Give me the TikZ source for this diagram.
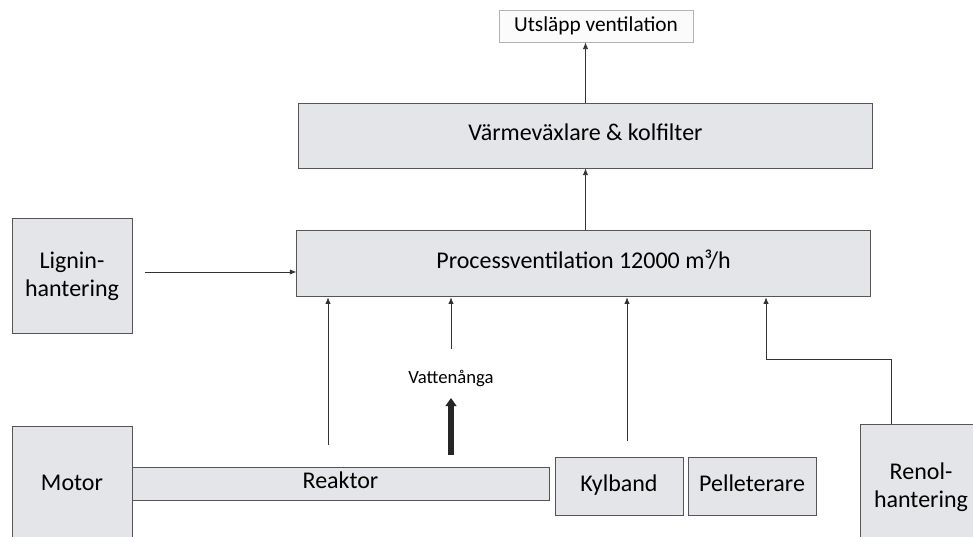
\documentclass[tikz,border=0pt]{standalone}
\usepackage{fontspec}
\setmainfont{Carlito}
\usetikzlibrary{arrows.meta,positioning}

\definecolor{boxgray}{HTML}{E4E5E8}
\definecolor{edgegray}{HTML}{555555}

\begin{document}
\begin{tikzpicture}[x=0.75pt, y=-0.75pt,
	box/.style={draw=edgegray, fill=boxgray, line width=0.6pt, inner sep=0pt, align=center, font=\fontsize{18}{21}\selectfont},
	one/.style={text height=12.5pt, text depth=4.5pt},
	arr/.style={-{Latex[length=5pt,width=4pt]}, line width=0.6pt, black!80},
	line/.style={line width=0.6pt, black!80}]
			\clip (0,0) rectangle (973,536);
			\fill[white] (0,0) rectangle (973,536);
			
			\node[box, one, fill=white!97!gray, draw=gray!60, minimum width=145.5pt, minimum height=24pt, font=\fontsize{16}{19}\selectfont] (ut) at (596,26) {Utsläpp ventilation};
			\node[box, one, minimum width=430pt, minimum height=48.75pt] (varme) at (585.5,135.5) {Värmeväxlare \& kolfilter};
			\node[box, one, minimum width=430pt, minimum height=50pt] (proc) at (583.5,263.5) {Processventilation 12000 m³/h};
			\node[box, minimum width=90pt, minimum height=86pt] (lignin) at (72,276) {Lignin-\\hantering};
			\node[box, one, minimum width=90pt, minimum height=88.5pt] (motor) at (72,485) {Motor};
			\node[box, one, minimum width=312.75pt, minimum height=24.75pt] (reaktor) at (340.5,483.5) {Reaktor};
			\node[box, one, minimum width=96pt, minimum height=43.5pt] (kyl) at (619,486) {Kylband};
			\node[box, one, minimum width=96pt, minimum height=43.5pt] (pell) at (752,486) {Pelleterare};
			\node[box, minimum width=91.5pt, minimum height=94.5pt] (renol) at (921,487) {Renol-\\hantering};
			\node[font=\fontsize{14}{16}\selectfont, inner sep=0pt] (vatten) at (451,378) {Vattenånga};
			
			\coordinate (lg) at (145,272);
			\coordinate (r1) at (328,445);
			\coordinate (v0) at (451,349);
			\coordinate (v1) at (451,455);
			\coordinate (v2) at (451,398);
			\coordinate (k1) at (627,441);
			\coordinate (rn) at (891,424);
			\coordinate (rb) at (891,359);
			\coordinate (rt) at (766,359);
			
			\draw[arr] (varme.north) -- (varme.north |- ut.south);
			\draw[arr] (proc.north -| varme.south) -- (varme.south);
			\draw[arr] (lg) -- (lg -| proc.west);
			\draw[arr] (r1) -- (r1 |- proc.south);
			\draw[arr] (v0) -- (v0 |- proc.south);
			\draw[-{Triangle[length=6pt,width=8pt]}, line width=4pt, gray!30!black] (v1) -- (v2);
			\draw[arr] (k1) -- (k1 |- proc.south);
			\draw[arr] (rn) -- (rb) -- (rt) -- (rt |- proc.south);
		\end{tikzpicture}
\end{document}
